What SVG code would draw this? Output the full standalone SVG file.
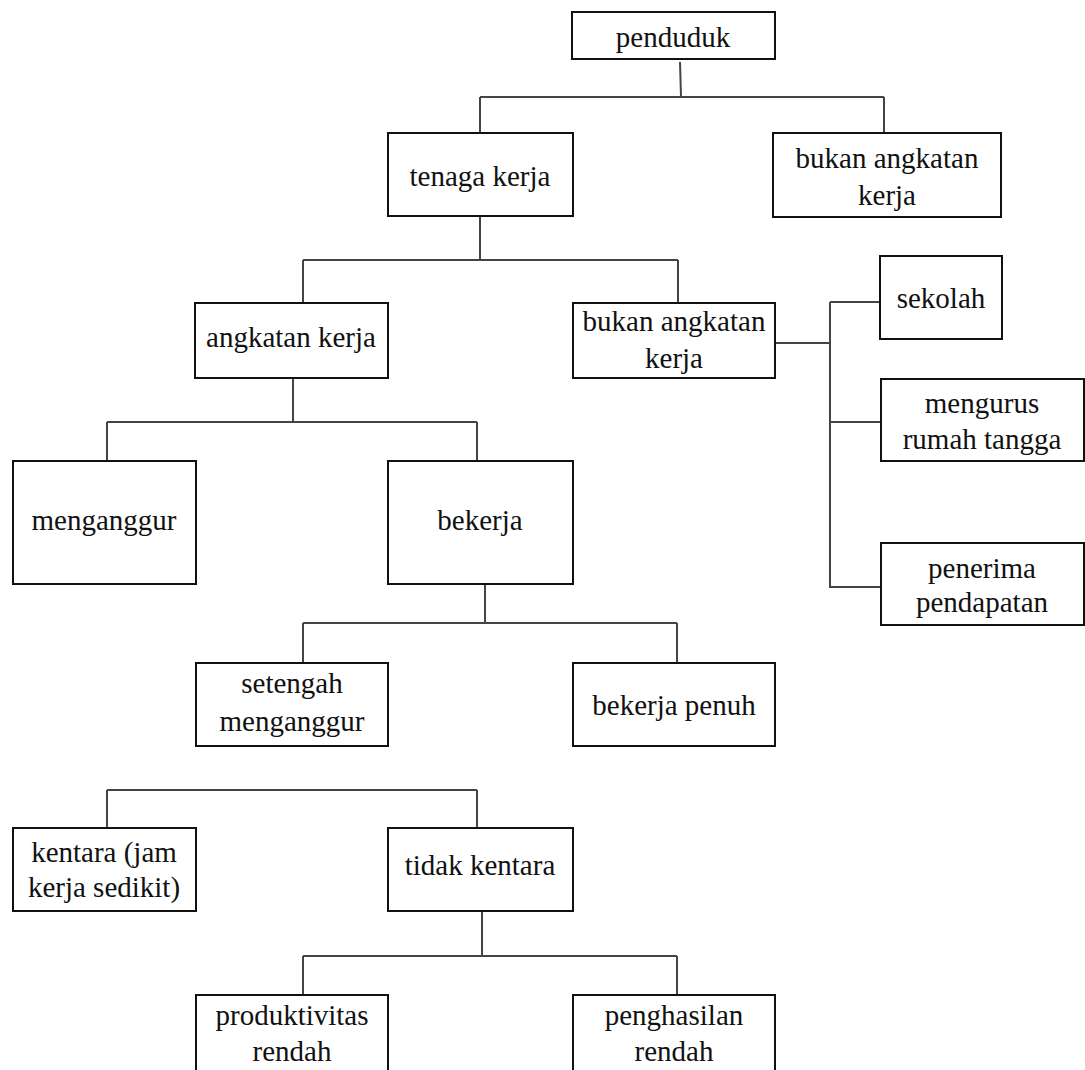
<svg xmlns="http://www.w3.org/2000/svg" width="1085" height="1070" viewBox="0 0 1085 1070">
<style>
.box{fill:#fff;stroke:#111;stroke-width:2}
.t{font-size:29px;fill:#111;text-anchor:middle}
.c{fill:none;stroke:#444;stroke-width:2}
</style>
<rect width="1085" height="1070" fill="#fff"/>
<g id="connectors">
<path class="c" d="M680 62L681 97M480 97H884M480 97V133M884 97V133"/>
<path class="c" d="M480 216V260M303 260H678M303 260V303M678 260V303"/>
<path class="c" d="M775 343H830M830 302V588M830 302H880M830 422H880M830 587H885"/>
<path class="c" d="M293 378V422M107 422H477M107 422V461M477 422V461"/>
<path class="c" d="M485 584V623M303 623H677M303 623V663M677 623V663"/>
<path class="c" d="M107 790H477M107 790V828M477 790V828"/>
<path class="c" d="M482 911V956M303 956H677M303 956V995M677 956V995"/>
</g>
<g id="nodes" font-family="Liberation Serif, Times New Roman, serif">
<g id="penduduk"><rect class="box" x="572" y="12" width="203" height="47"/><text class="t" x="673" y="47">penduduk</text></g>
<g id="tenaga-kerja"><rect class="box" x="388" y="133" width="185" height="83"/><text class="t" x="480" y="186">tenaga kerja</text></g>
<g id="bukan-angkatan-kerja-1"><rect class="box" x="773" y="133" width="228" height="84"/><text class="t" x="887" y="168">bukan angkatan</text><text class="t" x="887" y="205">kerja</text></g>
<g id="angkatan-kerja"><rect class="box" x="195" y="303" width="193" height="75"/><text class="t" x="291" y="347">angkatan kerja</text></g>
<g id="bukan-angkatan-kerja-2"><rect class="box" x="573" y="303" width="202" height="75"/><text class="t" x="674" y="331">bukan angkatan</text><text class="t" x="674" y="368">kerja</text></g>
<g id="sekolah"><rect class="box" x="880" y="256" width="122" height="83"/><text class="t" x="941" y="308">sekolah</text></g>
<g id="mengurus-rumah-tangga"><rect class="box" x="881" y="379" width="203" height="82"/><text class="t" x="982" y="413">mengurus</text><text class="t" x="982" y="449">rumah tangga</text></g>
<g id="penerima-pendapatan"><rect class="box" x="881" y="543" width="203" height="82"/><text class="t" x="982" y="578">penerima</text><text class="t" x="982" y="612">pendapatan</text></g>
<g id="menganggur"><rect class="box" x="13" y="461" width="183" height="123"/><text class="t" x="104" y="530">menganggur</text></g>
<g id="bekerja"><rect class="box" x="388" y="461" width="185" height="123"/><text class="t" x="480" y="530">bekerja</text></g>
<g id="setengah-menganggur"><rect class="box" x="196" y="663" width="192" height="83"/><text class="t" x="292" y="693">setengah</text><text class="t" x="292" y="731">menganggur</text></g>
<g id="bekerja-penuh"><rect class="box" x="573" y="663" width="202" height="83"/><text class="t" x="674" y="715">bekerja penuh</text></g>
<g id="kentara"><rect class="box" x="13" y="828" width="183" height="83"/><text class="t" x="104" y="862">kentara (jam</text><text class="t" x="104" y="897">kerja sedikit)</text></g>
<g id="tidak-kentara"><rect class="box" x="388" y="828" width="185" height="83"/><text class="t" x="480" y="875">tidak kentara</text></g>
<g id="produktivitas-rendah"><rect class="box" x="196" y="995" width="192" height="80"/><text class="t" x="292" y="1025">produktivitas</text><text class="t" x="292" y="1061">rendah</text></g>
<g id="penghasilan-rendah"><rect class="box" x="573" y="995" width="202" height="80"/><text class="t" x="674" y="1025">penghasilan</text><text class="t" x="674" y="1061">rendah</text></g>
</g>
</svg>
